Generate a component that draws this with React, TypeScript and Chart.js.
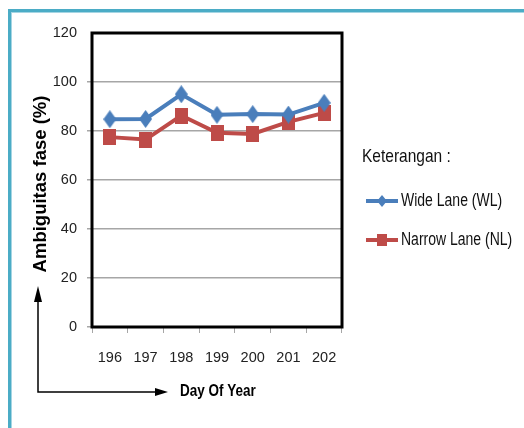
import React, { useEffect, useRef } from "react";
import { Chart, registerables } from "chart.js";

Chart.register(...registerables);

const days = ["196", "197", "198", "199", "200", "201", "202"];
const wideLane = [84.8, 84.9, 95.0, 86.6, 86.9, 86.7, 91.5];
const narrowLane = [77.5, 76.5, 86.3, 79.3, 78.8, 83.7, 87.4];
const yMin = 0;
const yMax = 120;
const yStep = 20;
const seriesNames = ["Wide Lane (WL)", "Narrow Lane (NL)"];
const legendTitle = "Keterangan :";
const yTitle = "Ambiguitas fase (%)";
const xTitle = "Day Of Year";

const FONT = "'Liberation Sans', Arial, sans-serif";
const BLUE = "#4a7ebb";
const RED = "#be4b48";

function makeMarker(kind: "diamond" | "rect", w: number, h: number, color: string) {
  const c = document.createElement("canvas");
  c.width = w;
  c.height = h;
  const g = c.getContext("2d")!;
  g.fillStyle = color;
  if (kind === "diamond") {
    g.beginPath();
    g.moveTo(w / 2, 0);
    g.lineTo(w, h / 2);
    g.lineTo(w / 2, h);
    g.lineTo(0, h / 2);
    g.closePath();
    g.fill();
  } else {
    g.fillRect(0, 0, w, h);
  }
  return c;
}

function tallText(ctx: any, text: string, x: number, y: number, stretch: number) {
  ctx.save();
  ctx.translate(x, y);
  ctx.scale(1, stretch);
  ctx.fillText(text, 0, 0);
  ctx.restore();
}

const decorPlugin = {
  id: "decor",
  beforeDraw(chart: any) {
    const ctx = chart.ctx;
    ctx.save();
    ctx.fillStyle = "#ffffff";
    ctx.fillRect(0, 0, chart.width, chart.height);
    ctx.fillStyle = "#4bacc6";
    ctx.fillRect(8, 9, 3, chart.height - 9);
    ctx.fillRect(8, 9, chart.width - 8, 3);
    ctx.fillStyle = "#a5d5e3";
    ctx.fillRect(11, 12, 1, chart.height - 12);
    ctx.fillRect(11, 12, chart.width - 11, 1);
    ctx.restore();
  },
  beforeDatasetsDraw(chart: any) {
    const { ctx, chartArea } = chart;
    ctx.save();
    ctx.strokeStyle = "#000000";
    ctx.lineWidth = 3;
    ctx.strokeRect(chartArea.left, chartArea.top, chartArea.right - chartArea.left, chartArea.bottom - chartArea.top);
    ctx.restore();
  },
  afterDraw(chart: any) {
    const { ctx } = chart;
    ctx.save();
    ctx.fillStyle = "#000000";
    ctx.font = `bold 18.5px ${FONT}`;
    ctx.textAlign = "center";
    ctx.textBaseline = "middle";
    ctx.translate(41, 184);
    ctx.rotate(-Math.PI / 2);
    ctx.fillText(yTitle, 0, 0);
    ctx.setTransform(1, 0, 0, 1, 0, 0);

    ctx.strokeStyle = "#000000";
    ctx.lineWidth = 1.5;
    ctx.beginPath();
    ctx.moveTo(38, 300);
    ctx.lineTo(38, 392);
    ctx.lineTo(158, 392);
    ctx.stroke();
    ctx.fillStyle = "#000000";
    ctx.beginPath();
    ctx.moveTo(38, 286);
    ctx.lineTo(34, 302);
    ctx.lineTo(42, 302);
    ctx.closePath();
    ctx.fill();
    ctx.beginPath();
    ctx.moveTo(168, 392);
    ctx.lineTo(155, 388);
    ctx.lineTo(155, 396);
    ctx.closePath();
    ctx.fill();

    ctx.font = `bold 13.5px ${FONT}`;
    ctx.textAlign = "left";
    ctx.textBaseline = "middle";
    tallText(ctx, xTitle, 180, 391, 1.25);

    ctx.font = `15.5px ${FONT}`;
    ctx.fillStyle = "#111111";
    tallText(ctx, legendTitle, 362, 157, 1.2);
    const rows = [201, 240];
    ctx.font = `14px ${FONT}`;
    chart.data.datasets.forEach((ds: any, i: number) => {
      const y = rows[i];
      ctx.strokeStyle = ds.borderColor;
      ctx.lineWidth = 4;
      ctx.beginPath();
      ctx.moveTo(366, y);
      ctx.lineTo(398, y);
      ctx.stroke();
      ctx.fillStyle = ds.borderColor;
      const cx = 382;
      if (i === 0) {
        ctx.beginPath();
        ctx.moveTo(cx - 5, y);
        ctx.lineTo(cx, y - 6);
        ctx.lineTo(cx + 5, y);
        ctx.lineTo(cx, y + 6);
        ctx.closePath();
        ctx.fill();
      } else {
        ctx.fillRect(cx - 5, y - 6, 10, 12);
      }
      ctx.fillStyle = "#111111";
      tallText(ctx, ds.label, 401, y, 1.25);
    });
    ctx.restore();
  },
};

export default function App() {
  const ref = useRef<HTMLCanvasElement | null>(null);
  useEffect(() => {
    if (!ref.current) return;
    const diamond = makeMarker("diamond", 13, 18, BLUE);
    const square = makeMarker("rect", 13, 16, RED);
    const chart = new Chart(ref.current, {
      type: "line",
      data: {
        labels: days,
        datasets: [
          {
            label: seriesNames[0],
            data: wideLane,
            borderColor: BLUE,
            backgroundColor: BLUE,
            borderWidth: 4,
            pointStyle: diamond,
            pointRadius: 8,
            tension: 0,
          },
          {
            label: seriesNames[1],
            data: narrowLane,
            borderColor: RED,
            backgroundColor: RED,
            borderWidth: 4,
            pointStyle: square,
            pointRadius: 8,
            tension: 0,
          },
        ] as any,
      },
      options: {
        responsive: false,
        animation: false,
        events: [],
        layout: { padding: { left: 0, top: 33, right: 182, bottom: 0 } },
        plugins: { legend: { display: false }, tooltip: { enabled: false } },
        scales: {
          x: {
            offset: true,
            grid: { offset: true, drawOnChartArea: false, tickLength: 6, color: "#a6a6a6", lineWidth: 1 },
            border: { display: false },
            ticks: { color: "#222", font: { family: FONT, size: 14.5 }, padding: 16, maxRotation: 0, autoSkip: false },
            afterFit: (s: any) => { s.height = 101; },
          },
          y: {
            min: yMin,
            max: yMax,
            grid: { color: (c: any) => (c.tick && c.tick.value === yMax ? "rgba(0,0,0,0)" : "#a6a6a6"), lineWidth: 1.5, tickLength: 5 },
            border: { display: false },
            ticks: { stepSize: yStep, color: "#222", font: { family: FONT, size: 14.5 }, padding: 10 },
            afterFit: (s: any) => { s.width = 92; },
          },
        },
      },
      plugins: [decorPlugin],
    });
    return () => chart.destroy();
  }, []);
  return (
    <div style={{ position: "absolute", left: 0, top: 0, width: 524, height: 428 }}>
      <canvas ref={ref} width={524} height={428} style={{ display: "block", width: 524, height: 428 }} />
    </div>
  );
}
